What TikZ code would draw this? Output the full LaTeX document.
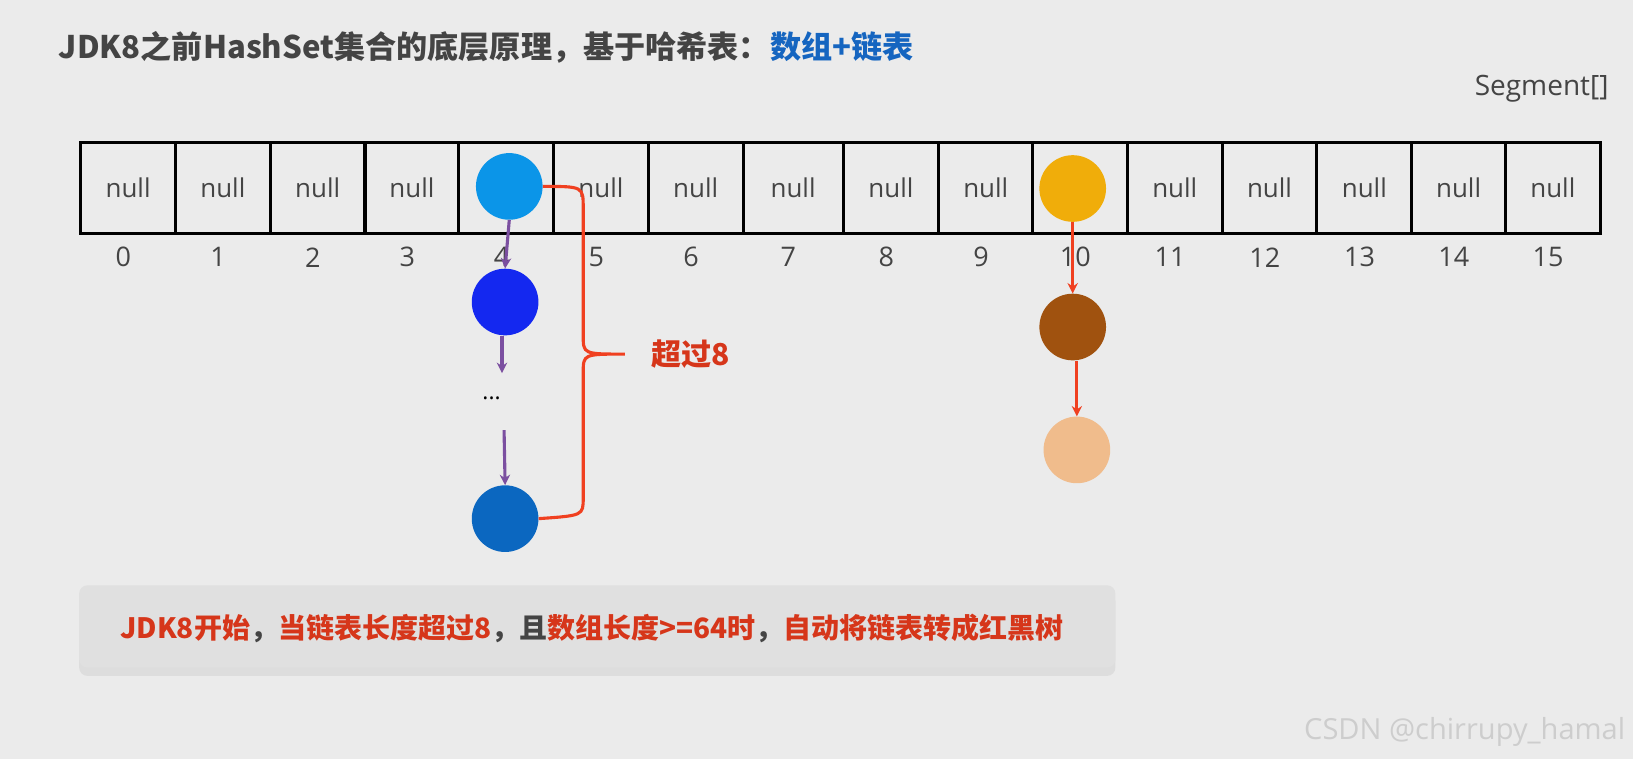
\documentclass[tikz,border=0pt]{standalone}
\usepackage{fontspec}
\setmainfont{Open Sans}
\newfontfamily\cjk{Noto Sans CJK SC}
\usetikzlibrary{shadows,arrows.meta}
\definecolor{bgc}{HTML}{EBEBEB}
\definecolor{txt}{HTML}{444444}
\definecolor{blu}{HTML}{1565C0}
\definecolor{rd}{HTML}{D6361A}
\definecolor{pur}{HTML}{7B4FA0}
\definecolor{arr}{HTML}{F04020}
\begin{document}
\begin{tikzpicture}[x=1bp,y=-1bp,
  cell/.style={draw=black,line width=3pt,minimum width=91bp,minimum height=88bp,anchor=north west,inner sep=0pt,font=\fontsize{25}{28}\selectfont,text=txt},
  idx/.style={font=\fontsize{26}{28}\selectfont,text=txt},
  ball/.style={circle,minimum size=64bp,inner sep=0pt},
  parr/.style={draw=pur,line width=3pt,-{Stealth[length=10bp,width=10bp]}},
  rarr/.style={draw=arr,line width=3pt,-{Stealth[length=10bp,width=10bp]}}]
\fill[bgc] (0,0) rectangle (1568,729);
\useasboundingbox (0,0) rectangle (1568,729);
\node[anchor=west,font=\cjk\bfseries\fontsize{30}{34}\selectfont,text=txt] (title) at (53,45) {JDK8之前HashSet集合的底层原理，基于哈希表：\textcolor{blu}{数组+链表}};
\node[anchor=east,font=\fontsize{27}{30}\selectfont,text=txt] (seg) at (1548,85) {Segment[]};
\foreach \i/\a/\b in {0/76/167,1/167/258,2/258/349,3/349/439,4/439/530,5/530/621,6/621/712,7/712/808,8/808/900,9/900/990,10/990/1081,11/1081/1172,12/1172/1263,13/1263/1354,14/1354/1444,15/1444/1535}{
  \pgfmathsetmacro\w{\b-\a}
  \ifnum\i=4 \node[cell,minimum width=\w bp] (c\i) at (\a,135) {};
  \else\ifnum\i=10 \node[cell,minimum width=\w bp] (c\i) at (\a,135) {};
  \else \node[cell,minimum width=\w bp] (c\i) at (\a,135) {null};\fi\fi
  \node[idx] (i\i) at ({(\a+\b)/2-3},247) {\i};
}
\node[ball,fill={rgb,255:red,11;green,149;blue,232}] (a1) at (489,179) {};
\node[ball,fill={rgb,255:red,20;green,40;blue,240}] (a2) at (485,290) {};
\node[font=\fontsize{22}{24}\selectfont] (dots) at (472,382) {...};
\node[ball,fill={rgb,255:red,11;green,103;blue,192}] (a3) at (485,498) {};
\draw[parr] (a1.south) -- (a2.north);
\draw[parr] (a2.south) ++(-3,0) coordinate (p1) -- ++(0,36) coordinate (p2);
\draw[parr] (dots.south) ++(12,26) coordinate (p3) -- (a3.north);
\node[ball,fill={rgb,255:red,240;green,173;blue,10}] (b1) at (1030,181) {};
\node[ball,fill={rgb,255:red,160;green,82;blue,15}] (b2) at (1030,314) {};
\node[ball,fill={rgb,255:red,240;green,188;blue,140}] (b3) at (1034,432) {};
\draw[rarr] (b1.south) -- (b2.north);
\draw[rarr] (b2.south) ++(4,0) coordinate (q1) -- (b3.north);
\coordinate (tip) at (600,340);
\draw[arr,line width=3pt] (a1.east) .. controls (560,179) .. (560,200) -- (560,322) .. controls (560,340) .. (tip)
  .. controls (560,340) .. (560,358) -- (560,478) .. controls (560,495) .. (a3.east);
\node[anchor=west,font=\cjk\bfseries\fontsize{29}{32}\selectfont,text=rd] (over) at (622,340) {超过8};
\node[draw=none,fill={rgb,255:red,224;green,224;blue,224},rounded corners=8bp,minimum width=995bp,minimum height=79bp,drop shadow={opacity=0.12,shadow xshift=0bp,shadow yshift=-8bp}] (box) at (573.5,601.5) {};
\node[anchor=west,font=\cjk\bfseries\fontsize{27}{30}\selectfont,text=rd] (note) at (112,603) {JDK8开始\textcolor{txt}{，}当链表长度超过8\textcolor{txt}{，且}数组长度>=64时\textcolor{txt}{，}自动将链表转成红黑树};
\node[anchor=east,font=\fontsize{28}{30}\selectfont,text={rgb,255:red,205;green,205;blue,205}] (wm) at (1564,703) {CSDN @chirrupy\_hamal};
\end{tikzpicture}
\end{document}
